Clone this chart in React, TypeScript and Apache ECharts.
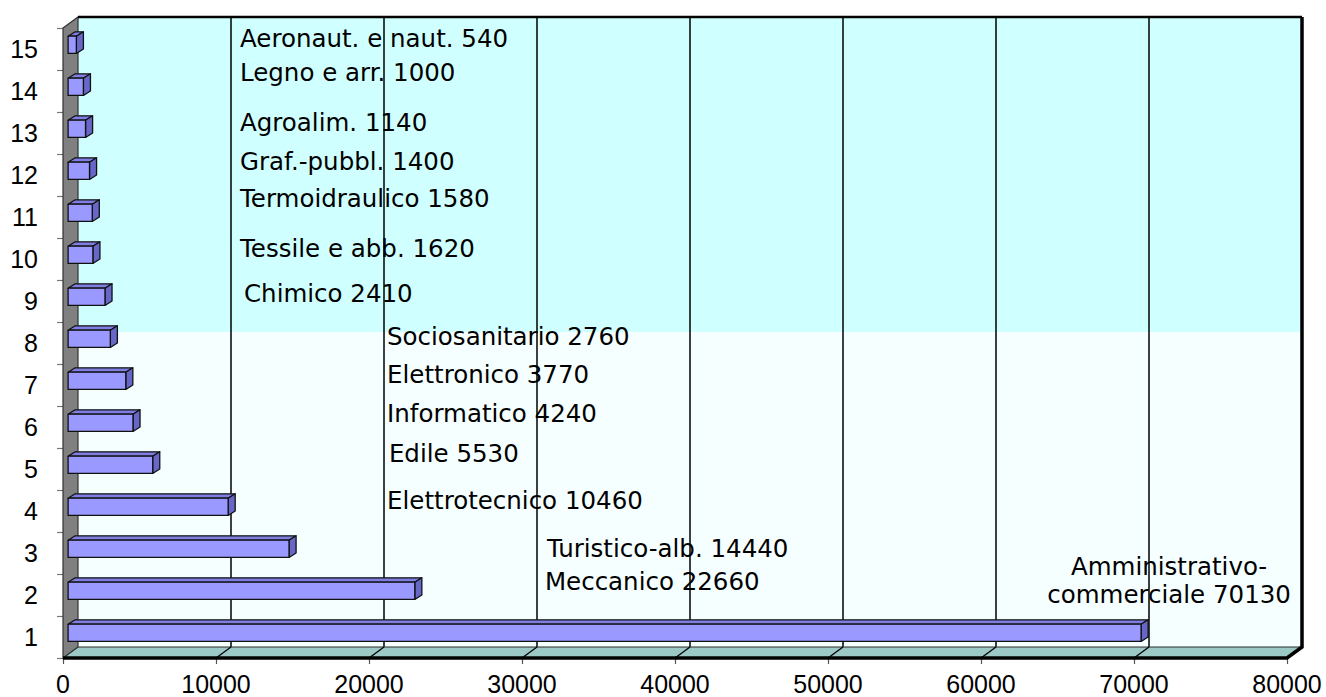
import React, { useEffect, useRef } from "react";
import * as echarts from "echarts";

// ---- data ----
const categories = ["1", "2", "3", "4", "5", "6", "7", "8", "9", "10", "11", "12", "13", "14", "15"];
const values = [70130, 22660, 14440, 10460, 5530, 4240, 3770, 2760, 2410, 1620, 1580, 1400, 1140, 1000, 540];
const sectors = [
  "Amministrativo-\ncommerciale",
  "Meccanico",
  "Turistico-alb.",
  "Elettrotecnico",
  "Edile",
  "Informatico",
  "Elettronico",
  "Sociosanitario",
  "Chimico",
  "Tessile e abb.",
  "Termoidraulico",
  "Graf.-pubbl.",
  "Agroalim.",
  "Legno e arr.",
  "Aeronaut. e naut.",
];
const xTicks = [0, 10000, 20000, 30000, 40000, 50000, 60000, 70000, 80000];

// annotation anchors (x in axis units, y in category units from the first band's centre)
const labelAnchorX = [72290, 31500, 31630, 21180, 21300, 21180, 21180, 21180, 11830, 11570, 11570, 11570, 11570, 11570, 11570];
const labelAnchorY = [1.35, 1.31, 2.1, 3.24, 4.38, 5.33, 6.24, 7.15, 8.17, 9.26, 10.45, 11.33, 12.24, 13.45, 14.26];

// ---- style ----
const DX = 15;
const DY = -11;
const TICK_FONT = "'Liberation Sans', Arial, sans-serif";
const LABEL_FONT = "'DejaVu Sans', Verdana, sans-serif";

export default function App() {
  const ref = useRef<HTMLDivElement>(null);

  useEffect(() => {
    document.body.style.margin = "0";
    if (!ref.current) return;
    const chart = echarts.init(ref.current, undefined, { renderer: "svg" });

    const frameRender = (params: any, api: any) => {
      const cs = params.coordSys;
      const left = cs.x;
      const top = cs.y;
      const w = cs.width;
      const h = cs.height;
      const bottom = top + h;
      const right = left + w;
      const children: any[] = [];
      // back wall
      children.push({
        type: "rect",
        shape: { x: left + DX, y: top + DY, width: w, height: h },
        style: { fill: "#f5ffff" },
      });
      children.push({
        type: "rect",
        shape: { x: left + DX, y: top + DY, width: w, height: h / 2 },
        style: { fill: "#d0ffff" },
      });
      // back grid lines
      xTicks.forEach((t) => {
        if (t === xTicks[0] || t === xTicks[xTicks.length - 1]) return;
        const px = api.coord([t, 0])[0];
        children.push({
          type: "line",
          shape: { x1: px + DX, y1: top + DY, x2: px + DX, y2: bottom + DY },
          style: { stroke: "#000", lineWidth: 1.5 },
        });
      });
      // floor
      children.push({
        type: "polygon",
        shape: {
          points: [
            [left, bottom],
            [right, bottom],
            [right + DX, bottom + DY],
            [left + DX, bottom + DY],
          ],
        },
        style: { fill: "#9cc9c5", stroke: "#2a2a2a", lineWidth: 1 },
      });
      xTicks.forEach((t) => {
        if (t === xTicks[0] || t === xTicks[xTicks.length - 1]) return;
        const px = api.coord([t, 0])[0];
        children.push({
          type: "line",
          shape: { x1: px, y1: bottom, x2: px + DX, y2: bottom + DY },
          style: { stroke: "#000", lineWidth: 1.3 },
        });
      });
      // left wall
      children.push({
        type: "polygon",
        shape: {
          points: [
            [left, top],
            [left + DX, top + DY],
            [left + DX, bottom + DY],
            [left, bottom],
          ],
        },
        style: { fill: "#808080", stroke: "#333", lineWidth: 1.2 },
      });
      // heavy borders
      children.push({
        type: "line",
        shape: { x1: left + DX, y1: top + DY, x2: right + DX, y2: top + DY },
        style: { stroke: "#000", lineWidth: 2.5 },
      });
      children.push({
        type: "polyline",
        shape: {
          points: [
            [right + DX, top + DY],
            [right + DX, bottom + DY],
            [right, bottom],
            [left, bottom],
          ],
        },
        style: { stroke: "#000", lineWidth: 3.5, fill: null, lineJoin: "miter" },
      });
      return { type: "group", children };
    };

    const barRender = (params: any, api: any) => {
      const v = api.value(0);
      const i = api.value(1);
      const p0 = api.coord([0, i]);
      const p1 = api.coord([v, i]);
      const band = api.size([0, 1])[1];
      const hgt = band * 0.41;
      const ox = DX * 0.34;
      const oy = DY * 0.38;
      const dx = DX * 0.47;
      const dy = DY * 0.4;
      const x0 = p0[0] + ox;
      const x1 = p1[0] + ox;
      const yc = p0[1] + oy;
      const yt = yc - hgt / 2;
      const yb = yc + hgt / 2;
      const edge = { stroke: "#111", lineWidth: 1.3, lineJoin: "round" };
      return {
        type: "group",
        children: [
          {
            type: "polygon",
            shape: { points: [[x0, yt], [x1, yt], [x1 + dx, yt + dy], [x0 + dx, yt + dy]] },
            style: { fill: "#7f7fe3", ...edge },
          },
          {
            type: "polygon",
            shape: { points: [[x1, yt], [x1 + dx, yt + dy], [x1 + dx, yb + dy], [x1, yb]] },
            style: { fill: "#6767c8", ...edge },
          },
          {
            type: "rect",
            shape: { x: x0, y: yt, width: x1 - x0, height: hgt },
            style: { fill: "#9999ff", ...edge },
          },
        ],
      };
    };

    const labelRender = (params: any, api: any) => {
      const idx = params.dataIndex;
      const xv = api.value(0);
      const yv = api.value(2);
      const c0 = api.coord([xv, 0]);
      const band = api.size([0, 1])[1];
      return {
        type: "text",
        x: c0[0],
        y: c0[1] - yv * band,
        style: {
          text: sectors[idx] + " " + values[idx],
          fontFamily: LABEL_FONT,
          fontSize: 24.5,
          fill: "#000",
          align: idx === 0 ? "center" : "left",
          verticalAlign: "middle",
          lineHeight: 28,
        },
      };
    };

    chart.setOption({
      animation: false,
      backgroundColor: "#ffffff",
      grid: { left: 63, right: 39, top: 28, bottom: 39, containLabel: false },
      xAxis: {
        type: "value",
        min: xTicks[0],
        max: xTicks[xTicks.length - 1],
        interval: xTicks[1] - xTicks[0],
        splitLine: { show: false },
        axisLine: { show: false },
        axisTick: { show: true, length: 6, lineStyle: { color: "#555", width: 1.2 } },
        axisLabel: {
          fontFamily: TICK_FONT,
          fontSize: 25,
          color: "#000",
          margin: 13,
          formatter: (v: number) => String(v),
        },
      },
      yAxis: {
        type: "category",
        data: categories,
        axisLine: { show: false },
        axisTick: { show: true, length: 6, lineStyle: { color: "#777", width: 1.2 } },
        axisLabel: { fontFamily: TICK_FONT, fontSize: 25, color: "#000", margin: 25 },
        splitLine: { show: false },
      },
      series: [
        {
          type: "custom",
          name: "frame",
          z: 1,
          clip: false,
          silent: true,
          renderItem: frameRender,
          data: [[0, 0]],
          encode: { x: 0, y: 1 },
        },
        {
          type: "custom",
          name: "bars",
          z: 2,
          clip: false,
          renderItem: barRender,
          data: values.map((v, i) => [v, i]),
          encode: { x: 0, y: 1 },
        },
        {
          type: "custom",
          name: "labels",
          z: 3,
          clip: false,
          silent: true,
          renderItem: labelRender,
          data: labelAnchorX.map((x, i) => [x, 0, labelAnchorY[i]]),
          encode: { x: 0, y: 1 },
        },
      ],
    });

    return () => chart.dispose();
  }, []);

  return <div ref={ref} style={{ width: 1326, height: 697 }} />;
}
